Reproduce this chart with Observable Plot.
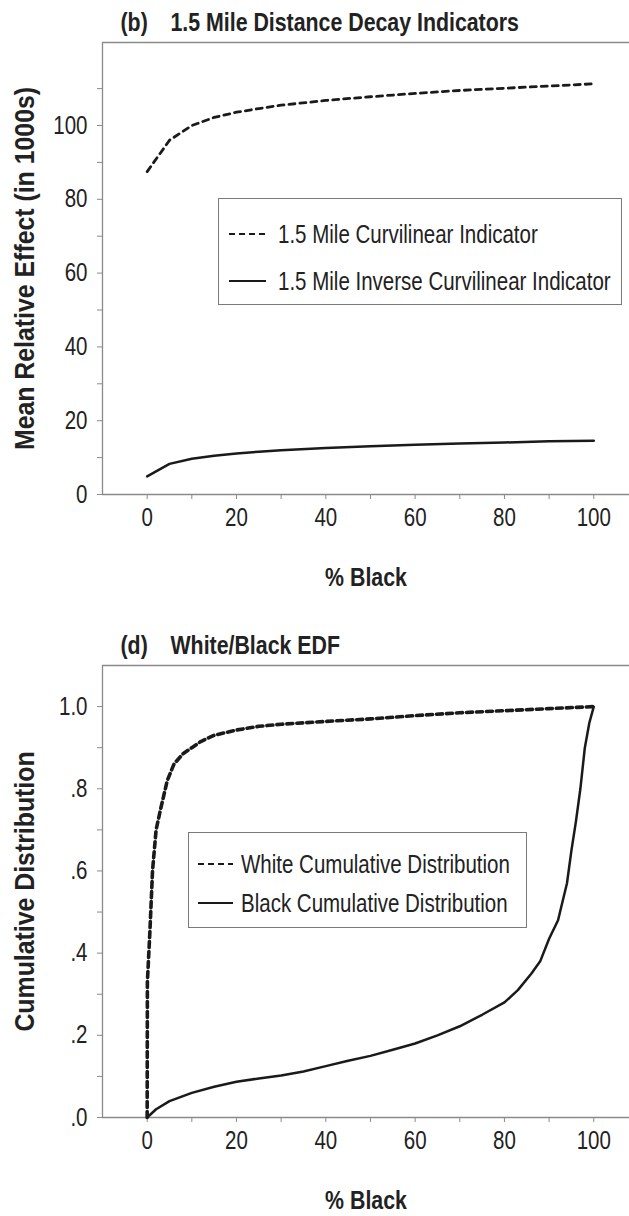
<!DOCTYPE html>
<html>
<head>
<meta charset="utf-8">
<script src="https://cdn.jsdelivr.net/npm/d3@7"></script>
<script src="https://cdn.jsdelivr.net/npm/@observablehq/plot@0.6"></script>
<style>
  html, body { margin: 0; padding: 0; background: white; }
  #wrap { position: relative; width: 629px; height: 1216px; overflow: hidden; }
  #wrap svg { display: block; }
  .legend { position: absolute; box-sizing: border-box; border: 1px solid #7a7a7a; background: white;
            font-family: "Liberation Sans", Arial, sans-serif;
            font-size: 25px; color: #222; }
  .legend .row { position: absolute; left: 0; right: 0; height: 0; }
  .legend .row svg { position: absolute; top: -3px; }
  .legend .row span { position: absolute; top: 0; transform: translateY(-50%) scaleX(0.82); transform-origin: left center; white-space: nowrap; line-height: 1; }
</style>
</head>
<body>
<div id="wrap"></div>
<script>
// ---------- Data: panel (b) ----------
const pctBlackB = [0, 5, 10, 15, 20, 25, 30, 40, 50, 60, 70, 80, 90, 100];
const curvilinear = [87.5, 96, 100, 102.2, 103.6, 104.6, 105.5, 106.8, 107.8, 108.7, 109.5, 110.1, 110.7, 111.3];
const inverseCurvilinear = [4.9, 8.3, 9.7, 10.5, 11.1, 11.6, 12.0, 12.6, 13.1, 13.5, 13.8, 14.1, 14.4, 14.6];
const seriesNamesB = ["1.5 Mile Curvilinear Indicator", "1.5 Mile Inverse Curvilinear Indicator"];
const titleB = ["(b)", "1.5 Mile Distance Decay Indicators"];
const yLabelB = "Mean Relative Effect (in 1000s)";
const yTicksB = [0, 20, 40, 60, 80, 100];
const yMinorB = [10, 30, 50, 70, 90, 110];

// ---------- Data: panel (d) ----------
const whiteX = [0, 0.05, 0.6, 1.2, 2, 3, 4.5, 6, 8, 10, 12, 15, 20, 25, 30, 40, 50, 60, 70, 80, 90, 100];
const whiteY = [0, 0.33, 0.45, 0.6, 0.7, 0.75, 0.82, 0.86, 0.885, 0.9, 0.915, 0.93, 0.943, 0.952, 0.957, 0.964, 0.97, 0.978, 0.985, 0.99, 0.995, 1.0];
const blackX = [0, 2, 5, 10, 15, 20, 25, 30, 35, 40, 45, 50, 55, 60, 65, 70, 75, 80, 83, 86, 88, 90, 92, 94, 95, 96, 97, 98, 99, 100];
const blackY = [0, 0.02, 0.04, 0.06, 0.075, 0.087, 0.095, 0.102, 0.112, 0.125, 0.138, 0.15, 0.165, 0.18, 0.2, 0.222, 0.25, 0.28, 0.31, 0.35, 0.38, 0.435, 0.48, 0.57, 0.65, 0.72, 0.8, 0.9, 0.96, 1.0];
const seriesNamesD = ["White Cumulative Distribution", "Black Cumulative Distribution"];
const titleD = ["(d)", "White/Black EDF"];
const yLabelD = "Cumulative Distribution";
const yTicksD = [0, 0.2, 0.4, 0.6, 0.8, 1.0];
const yMinorD = [0.1, 0.3, 0.5, 0.7, 0.9];

// ---------- Shared ----------
const xLabel = "% Black";
const xTicks = [0, 20, 40, 60, 80, 100];
const xMinor = [10, 30, 50, 70, 90];

const FONT = '"Liberation Sans", Arial, sans-serif';
const AXIS = "#8a8a8a";
const INK = "#1a1a1a";
const NARROW = 0.82;
const NARROW_YLABEL = 0.92;

function panel({height, marginTop, marginBottom, yDomain, yTicks, yMinor, yFmt, lines, title, yLabel}) {
  return Plot.plot({
    width: 629, height, marginLeft: 102, marginRight: 0, marginTop, marginBottom,
    style: {fontFamily: FONT, color: "#222", background: "white", overflow: "visible"},
    x: {domain: [-10, 108], axis: null},
    y: {domain: yDomain, axis: null},
    marks: [
      Plot.ruleY([yDomain[1]], {stroke: AXIS, strokeWidth: 1.3}),
      Plot.ruleX([-10], {stroke: AXIS, strokeWidth: 1.3}),
      Plot.ruleY([yDomain[0]], {stroke: AXIS, strokeWidth: 1.3}),
      Plot.axisX({ticks: xTicks, tickSize: 5, tickPadding: 9, fontSize: 25, stroke: AXIS, fill: "#222", label: null}),
      Plot.axisX({ticks: xMinor, tickSize: 5, tickFormat: () => "", stroke: AXIS, label: null}),
      Plot.axisY({ticks: yTicks, tickSize: 5, tickPadding: 10, fontSize: 25, stroke: AXIS, fill: "#222", tickFormat: yFmt, label: null}),
      Plot.axisY({ticks: yMinor, tickSize: 5, tickFormat: () => "", stroke: AXIS, label: null}),
      ...lines,
      Plot.text([title[0]], {frameAnchor: "top-left", dx: 18, dy: -12, textAnchor: "start", lineAnchor: "bottom", fontWeight: "bold", fontSize: 26}),
      Plot.text([title[1]], {frameAnchor: "top-left", dx: 68, dy: -12, textAnchor: "start", lineAnchor: "bottom", fontWeight: "bold", fontSize: 26}),
      Plot.text([yLabel], {frameAnchor: "left", dx: -77, rotate: -90, textAnchor: "middle", lineAnchor: "middle", fontWeight: "bold", fontSize: 27}),
      Plot.text([xLabel], {frameAnchor: "bottom", dy: 91, textAnchor: "middle", lineAnchor: "bottom", fontWeight: "bold", fontSize: 26})
    ]
  });
}

const tableB = pctBlackB.map((x, i) => ({x, curv: curvilinear[i], inv: inverseCurvilinear[i]}));
const whiteT = whiteX.map((x, i) => ({x, y: whiteY[i]}));
const blackT = blackX.map((x, i) => ({x, y: blackY[i]}));

const chartB = panel({
  height: 608, marginTop: 42, marginBottom: 114,
  yDomain: [0, 122.5], yTicks: yTicksB, yMinor: yMinorB, yFmt: d => String(d),
  title: titleB, yLabel: yLabelB,
  lines: [
    Plot.line(tableB, {x: "x", y: "curv", stroke: INK, strokeWidth: 2.8, strokeDasharray: "6,5"}),
    Plot.line(tableB, {x: "x", y: "inv", stroke: INK, strokeWidth: 2.5})
  ]
});

const chartD = panel({
  height: 608, marginTop: 57, marginBottom: 99,
  yDomain: [0, 1.1], yTicks: yTicksD, yMinor: yMinorD,
  yFmt: d => d === 1 ? "1.0" : d3.format(".1f")(d).replace(/^0/, ""),
  title: titleD, yLabel: yLabelD,
  lines: [
    Plot.line(whiteT, {x: "x", y: "y", stroke: INK, strokeWidth: 3.6, strokeDasharray: "6,4"}),
    Plot.line(blackT, {x: "x", y: "y", stroke: INK, strokeWidth: 2.5})
  ]
});

const wrap = document.getElementById("wrap");
wrap.append(chartB, chartD);

// condense all chart texts to mimic a narrow typeface
wrap.querySelectorAll("svg text").forEach(t => {
  const L = t.getComputedTextLength();
  if (L > 0) {
    const rotated = (t.getAttribute("transform") || "").includes("rotate");
    const f = rotated ? NARROW_YLABEL : NARROW;
    t.setAttribute("textLength", (L * f).toFixed(2));
    t.setAttribute("lengthAdjust", "spacingAndGlyphs");
  }
});

function legend({left, top, width, height, rows, sampleLeft, sampleWidth, textLeft, names}) {
  const box = document.createElement("div");
  box.className = "legend";
  Object.assign(box.style, {left: left + "px", top: top + "px", width: width + "px", height: height + "px"});
  names.forEach((name, i) => {
    const row = document.createElement("div");
    row.className = "row";
    row.style.top = rows[i] + "px";
    const dash = i === 0 ? ' stroke-dasharray="6,4"' : "";
    row.innerHTML = `<svg width="${sampleWidth}" height="6" style="left:${sampleLeft}px"><line x1="0" x2="${sampleWidth}" y1="3" y2="3" stroke="${INK}" stroke-width="2"${dash}/></svg><span style="left:${textLeft}px">${name}</span>`;
    box.append(row);
  });
  wrap.append(box);
}

legend({left: 218, top: 198, width: 404, height: 107, rows: [35, 82], sampleLeft: 10, sampleWidth: 37, textLeft: 59, names: seriesNamesB});
legend({left: 188, top: 832, width: 339, height: 96, rows: [31, 70], sampleLeft: 9, sampleWidth: 35, textLeft: 52, names: seriesNamesD});
</script>
</body>
</html>
